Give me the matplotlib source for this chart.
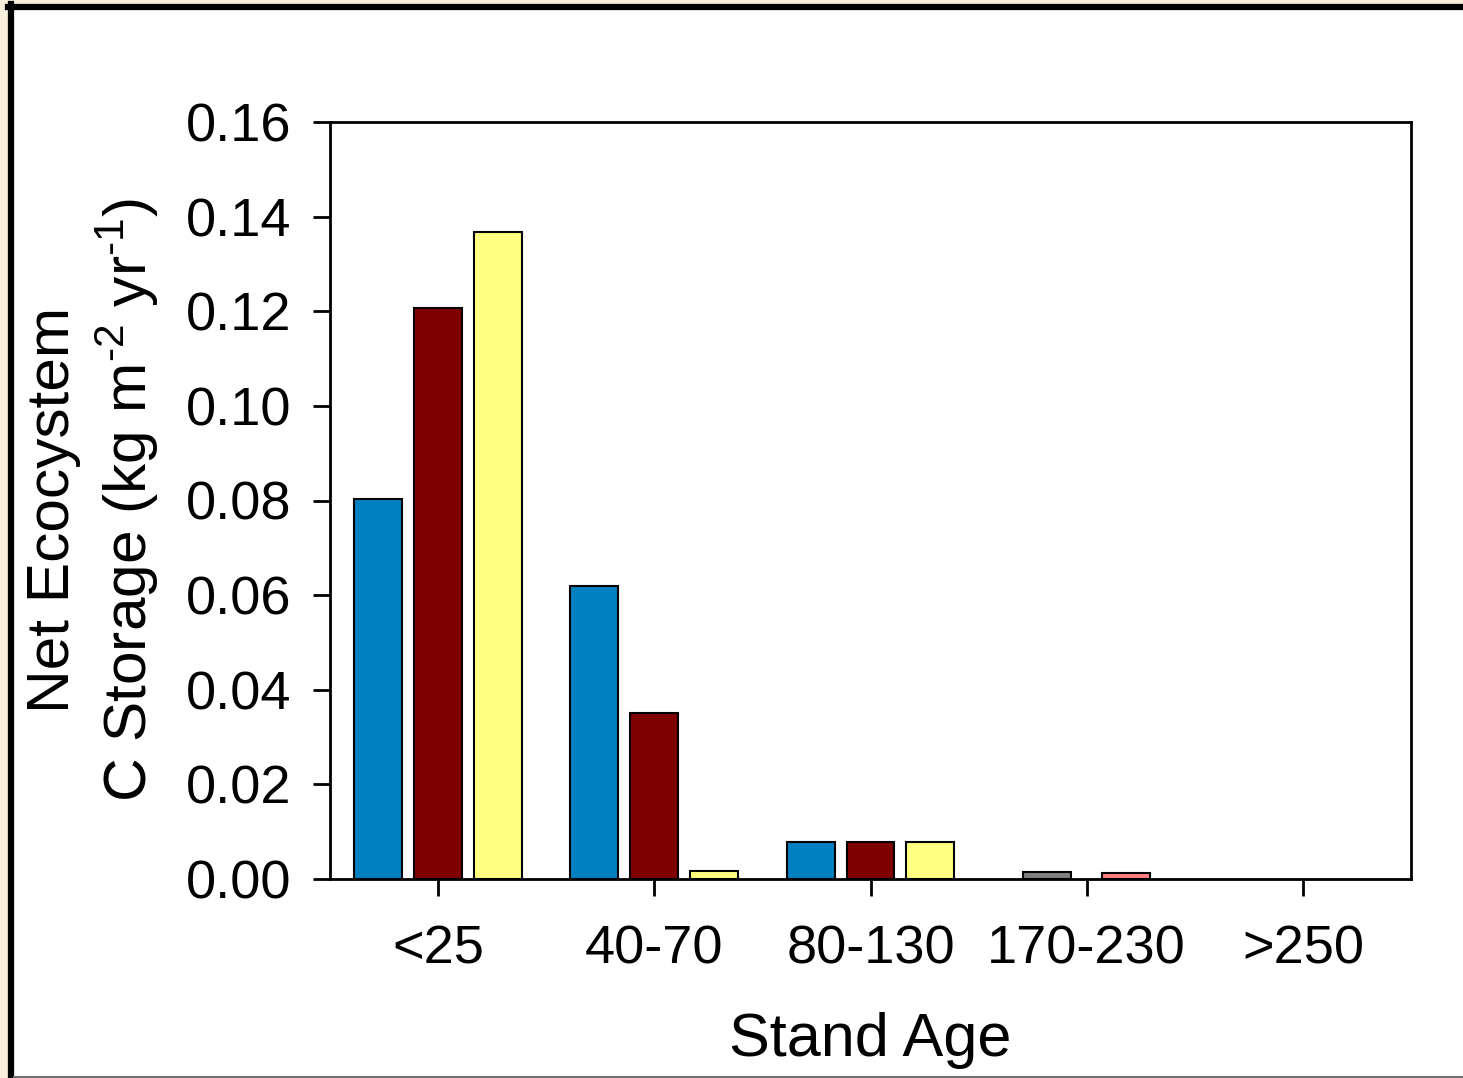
import matplotlib
matplotlib.use("Agg")
import matplotlib.pyplot as plt
from matplotlib.patches import Rectangle
from matplotlib.lines import Line2D

categories = ["<25", "40-70", "80-130", "170-230", ">250"]
blue_vals = [0.0803, 0.0619, 0.0078]
red_vals = [0.1207, 0.0351, 0.0078]
yellow_vals = [0.1368, 0.0017, 0.0078]
grey_vals = [0.0015]
pink_vals = [0.0013]

plt.rcParams['font.family'] = ['Liberation Sans', 'DejaVu Sans']
plt.rcParams['mathtext.fontset'] = 'custom'
plt.rcParams['mathtext.rm'] = 'Liberation Sans'
plt.rcParams['mathtext.it'] = 'Liberation Sans'
plt.rcParams['mathtext.bf'] = 'Liberation Sans:bold'

W, H = 1463, 1078
fig = plt.figure(figsize=(W/100, H/100), dpi=100)
fig.patch.set_facecolor('#f8eedb')

fig.add_artist(Rectangle((14/W, 1-1076/H), 1, (1076-10)/H, transform=fig.transFigure,
                         facecolor='white', edgecolor='none', zorder=-10))
fig.add_artist(Line2D([11/W, 11/W], [0, 1-4/H], transform=fig.transFigure, color='black', lw=4.5, zorder=-5))
fig.add_artist(Line2D([8/W, 1], [1-7/H, 1-7/H], transform=fig.transFigure, color='black', lw=4.5, zorder=-5))
fig.add_artist(Line2D([14/W, 1], [1-1077/H, 1-1077/H], transform=fig.transFigure, color='#707070', lw=1.5, zorder=-5))

ax = fig.add_axes([330/W, 1-879/H, 1081/W, 757/H])
ax.set_facecolor('white')

bw = 0.222
off3 = 0.277
ec = 'black'
lw = 1.5
x3 = [0, 1, 2]
ax.bar([x - off3 for x in x3], blue_vals, bw, color='#0080c0', edgecolor=ec, linewidth=lw, zorder=3)
ax.bar(x3, red_vals, bw, color='#800000', edgecolor=ec, linewidth=lw, zorder=3)
ax.bar([x + off3 for x in x3], yellow_vals, bw, color='#ffff80', edgecolor=ec, linewidth=lw, zorder=3)
ax.bar([3 - 0.183], grey_vals, bw, color='#808080', edgecolor=ec, linewidth=lw, zorder=3)
ax.bar([3 + 0.183], pink_vals, bw, color='#ff8080', edgecolor=ec, linewidth=lw, zorder=3)

ax.set_xlim(-0.5, 4.5)
ax.set_ylim(0, 0.16)
yt = [0.00, 0.02, 0.04, 0.06, 0.08, 0.10, 0.12, 0.14, 0.16]
ax.set_yticks(yt)
ax.set_yticklabels([f"{v:.2f}" for v in yt])
ax.set_xticks(range(len(categories)))
ax.set_xticklabels(categories)
for s in ax.spines.values():
    s.set_linewidth(2)
    s.set_color('black')
    s.set_zorder(4)
ax.tick_params(axis='both', direction='out', length=12, width=2, labelsize=39, color='black')
ax.tick_params(axis='y', pad=16)
ax.tick_params(axis='x', pad=21)

ax.set_xlabel("Stand Age", fontsize=44, labelpad=27)

fig.text(54/W, 1-510/H, "Net Ecocystem", rotation=90, fontsize=43.5, ha='center', va='center')
fig.text(127/W, 1-500/H, r"C Storage (kg m$^{\text{-}2}$ yr$^{\text{-}1}$)", rotation=90, fontsize=43.5,
         ha='center', va='center')

fig.savefig("out.png", dpi=100, facecolor=fig.get_facecolor())
